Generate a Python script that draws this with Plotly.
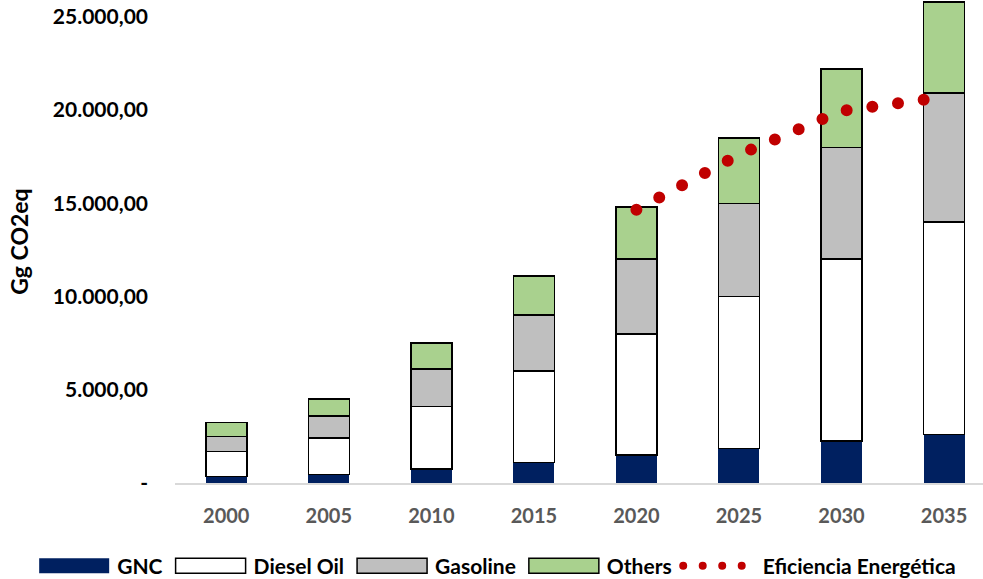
import plotly.graph_objects as go

years = ["2000", "2005", "2010", "2015", "2020", "2025", "2030", "2035"]
gnc = [350, 450, 750, 1100, 1500, 1850, 2250, 2600]
diesel = [1350, 1950, 3350, 4900, 6500, 8150, 9750, 11400]
gasoline = [800, 1200, 2000, 3000, 4000, 5000, 6000, 6900]
others = [750, 900, 1400, 2100, 2800, 3500, 4200, 4900]
eficiencia = [None, None, None, None, 14650, 17600, 19950, 20700]

ytick_vals = [0, 5000, 10000, 15000, 20000, 25000]
ytick_text = ["-", "5.000,00", "10.000,00", "15.000,00", "20.000,00", "25.000,00"]

FONT = "Lato"
edge = dict(color="black", width=1.5)

fig = go.Figure()
fig.add_bar(x=years, y=gnc, name="GNC", marker=dict(color="#002060", line=dict(color="#002060", width=0)), width=0.4)
fig.add_bar(x=years, y=diesel, name="Diesel Oil", marker=dict(color="#FFFFFF", line=edge), width=0.4)
fig.add_bar(x=years, y=gasoline, name="Gasoline", marker=dict(color="#BFBFBF", line=edge), width=0.4)
fig.add_bar(x=years, y=others, name="Others", marker=dict(color="#A9D18E", line=edge), width=0.4)
fig.add_scatter(x=years, y=eficiencia, name="Eficiencia Energética", mode="lines",
                line=dict(color="#C00000", width=12, dash="0px,25.9px"))

fig.update_layout(
    barmode="stack",
    width=983, height=579,
    margin=dict(l=175, r=0, t=0, b=96, autoexpand=False),
    plot_bgcolor="white", paper_bgcolor="white",
    font=dict(family=FONT, size=20, color="black"),
    legend=dict(orientation="h", x=-0.178, xanchor="left", xref="paper",
                y=-0.172, yanchor="middle", yref="paper",
                font=dict(family=FONT, size=21, color="black", weight="bold"),
                traceorder="normal", itemwidth=76, tracegroupgap=0),
    bargap=0.6,
)
fig.update_xaxes(type="category", range=[-0.5, 7.38], showline=True, linecolor="#D9D9D9", linewidth=1.5,
                 showgrid=False, ticks="", ticklabelstandoff=14,
                 tickfont=dict(family=FONT, size=20, color="#595959", weight="bold"))
fig.update_yaxes(range=[0, 25900], showgrid=False, zeroline=False, showline=False, ticks="",
                 tickvals=ytick_vals, ticktext=ytick_text, ticklabelstandoff=26,
                 tickfont=dict(family=FONT, size=21, color="black", weight="bold"),
                 title=dict(text="Gg CO2eq", standoff=17,
                            font=dict(family=FONT, size=23, color="black", weight="bold")))

post = """
document.body.style.margin = '0';
document.body.style.overflow = 'hidden';
var gd = document.getElementById('{plot_id}');
function fixStyle(){
  gd.querySelectorAll('.scatterlayer .js-line').forEach(function(p){
    p.style.strokeLinecap = 'round';
  });
  gd.querySelectorAll('.legend .legendpoints path').forEach(function(p){
    p.setAttribute('d', 'M35,7.5H-35V-7.5H35Z');
  });
  gd.querySelectorAll('.legend .legendlines path').forEach(function(p){
    p.setAttribute('d', 'M6.5,0h59');
    p.style.strokeWidth = '8px';
    p.style.strokeDasharray = '0px,19.5px';
    p.style.strokeLinecap = 'round';
  });
}
fixStyle();
gd.on('plotly_afterplot', fixStyle);
"""
fig.write_html("out.html", post_script=post, config={"displayModeBar": False})
